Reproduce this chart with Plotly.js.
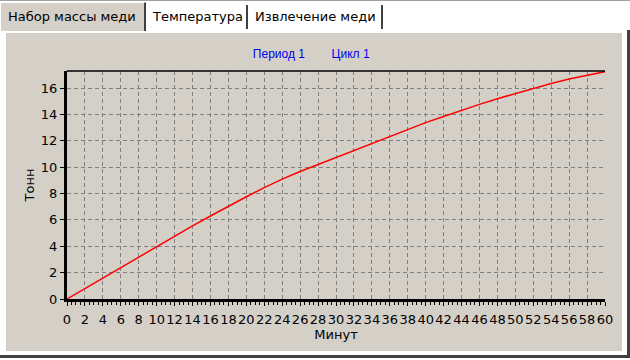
<!DOCTYPE html>
<html>
<head>
<meta charset="utf-8">
<script src="https://cdn.plot.ly/plotly-3.0.1.min.js"></script>
<style>
  html, body { margin:0; padding:0; background:#ffffff; width:630px; height:360px; overflow:hidden; font-family:"DejaVu Sans", sans-serif; }
  .topline { position:absolute; left:0; top:0; width:630px; height:1px; background:#a0a0a0; }
  .tab { position:absolute; box-sizing:border-box; font-size:13px; color:#000; white-space:nowrap; }
  #t1 { left:0; top:2px; width:146px; height:29px; background:#d4d0c8; border-left:1px solid #fff; border-top:1px solid #fff; border-right:2px solid #404040; padding:6px 0 0 7px; z-index:2; }
  #t2 { left:148px; top:5px; width:100px; height:24px; background:#fff; border-right:2px solid #404040; padding:4px 0 0 5px; }
  #t3 { left:250px; top:5px; width:133px; height:24px; background:#fff; border-right:2px solid #404040; padding:4px 0 0 5px; }
  #panel { position:absolute; left:0; top:30px; width:630px; height:328px; box-sizing:border-box; background:#fff; border-right:3px solid #404040; border-bottom:3px solid #404040; }
  #inner { position:absolute; left:6px; top:3px; width:616px; height:318px; background:#d4d0c8; }
  #chart { position:absolute; left:0; top:0; width:630px; height:360px; }
</style>
</head>
<body>
<div class="topline"></div>
<div id="panel"><div id="inner"></div></div>
<div class="tab" id="t1">Набор массы меди</div>
<div class="tab" id="t2">Температура</div>
<div class="tab" id="t3">Извлечение меди</div>
<div id="chart"></div>
<script>
// Data
const minutes = [0,2,4,6,8,10,12,14,16,18,20,22,24,26,28,30,32,34,36,38,40,42,44,46,48,50,52,54,56,58,60];
const tonnes  = [0,0.8,1.6,2.4,3.17,3.95,4.75,5.55,6.3,7.05,7.76,8.45,9.1,9.67,10.2,10.73,11.27,11.8,12.35,12.88,13.38,13.85,14.32,14.77,15.2,15.6,16.0,16.35,16.7,17.0,17.25];
const xTickVals = [0,2,4,6,8,10,12,14,16,18,20,22,24,26,28,30,32,34,36,38,40,42,44,46,48,50,52,54,56,58,60];
const yTickVals = [0,2,4,6,8,10,12,14,16];
const chartTitle = "Период 1&nbsp;&nbsp;&nbsp;&nbsp;&nbsp;&nbsp;&nbsp;&nbsp;Цикл 1";
const xTitle = "Минут";
const yTitle = "Тонн";

const font = {family:"DejaVu Sans, sans-serif", size:13, color:"#000"};

Plotly.newPlot("chart", [{
  x: minutes, y: tonnes, type:"scatter", mode:"lines",
  line:{color:"#ff0000", width:1.5}, hoverinfo:"skip"
}], {
  width:630, height:360,
  margin:{l:67, r:25, t:71, b:61, pad:0},
  paper_bgcolor:"rgba(0,0,0,0)", plot_bgcolor:"rgba(0,0,0,0)",
  showlegend:false,
  font: font,
  title:{text:chartTitle, font:{family:"Liberation Sans, Arial, sans-serif", size:12, color:"#0000ee"}, x:0.494, xref:"container", xanchor:"center", y:1-54/360, yref:"container", yanchor:"middle"},
  xaxis:{
    range:[0,60], tickvals:xTickVals, ticktext:xTickVals.map(String),
    ticks:"outside", ticklen:4, tickcolor:"#000", tickwidth:1,
    showline:true, linecolor:"#000", linewidth:3,
    showgrid:true, gridcolor:"#808080", griddash:"4px,3px", gridwidth:1,
    zeroline:false, tickangle:0, tickfont:font, ticklabelstandoff:2,
    minor:{dtick:0.5, ticks:"outside", ticklen:3, tickcolor:"#000", showgrid:false},
    title:{text:xTitle, font:font, standoff:5}
  },
  yaxis:{
    range:[0,17.3], tickvals:yTickVals, ticktext:yTickVals.map(String),
    ticks:"outside", ticklen:4, tickcolor:"#000", tickwidth:1,
    showline:true, linecolor:"#000", linewidth:3,
    showgrid:true, gridcolor:"#808080", griddash:"4px,3px", gridwidth:1,
    zeroline:false, tickfont:font,
    title:{text:yTitle, font:font, standoff:4}
  },
  shapes:[{type:"line", xref:"paper", yref:"paper", x0:0, x1:1, y0:1, y1:1, line:{color:"#000", width:1.5}}]
}, {staticPlot:true});
</script>
</body>
</html>
